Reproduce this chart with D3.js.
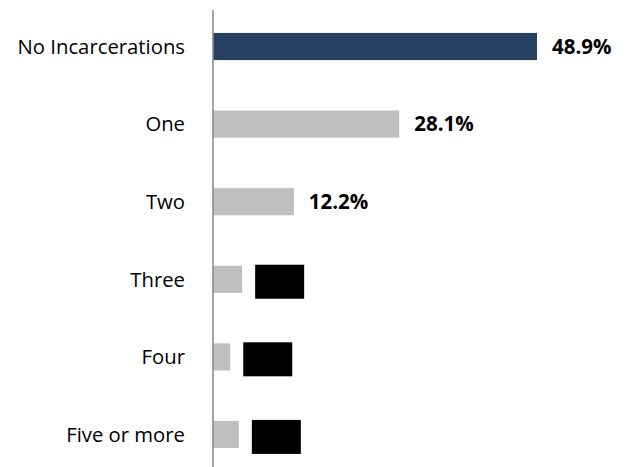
<!DOCTYPE html>
<html><head><meta charset="utf-8">
<script src="https://cdn.jsdelivr.net/npm/d3@7"></script>
<style>body{margin:0;background:#fff}</style>
</head><body>
<svg id="chart" width="631" height="467"></svg>
<script>
const categories = ["No Incarcerations","One","Two","Three","Four","Five or more"];
const values = [48.9, 28.1, 12.2, 4.4, 2.6, 3.9];
const valueLabels = ["48.9%","28.1%","12.2%",null,null,null];
const redacted = [false,false,false,true,true,true];
const barColors = ["#264061","#bfbfbf","#bfbfbf","#bfbfbf","#bfbfbf","#bfbfbf"];

const svg = d3.select("#chart");
const x = d3.scaleLinear().domain([0, 50]).range([213, 213 + 331.3]);
const y = d3.scaleBand().domain(categories).range([7.7, 473.3]).paddingInner(0.65).paddingOuter(0.325);
const data = categories.map((c,i)=>({c, v: values[i], lab: valueLabels[i], red: redacted[i], col: barColors[i]}));

svg.selectAll("rect.bar").data(data).join("rect").attr("class","bar")
  .attr("x", x(0)).attr("y", d=>y(d.c)).attr("width", d=>x(d.v)-x(0)).attr("height", y.bandwidth())
  .attr("fill", d=>d.col);

svg.append("line").attr("x1", x(0)).attr("x2", x(0)).attr("y1", 10).attr("y2", 467)
  .attr("stroke", "#868686").attr("stroke-width", 1.5);

const font = "'Open Sans', Carlito, Lato, sans-serif";
svg.selectAll("text.cat").data(data).join("text").attr("class","cat")
  .attr("x", 185).attr("y", d=>y(d.c)+y.bandwidth()/2).attr("dy","0.36em")
  .attr("text-anchor","end").attr("font-family", font).attr("font-size", 20.3).attr("fill","#000")
  .text(d=>d.c);

svg.selectAll("text.val").data(data.filter(d=>d.lab)).join("text").attr("class","val")
  .attr("x", d=>x(d.v)+15).attr("y", d=>y(d.c)+y.bandwidth()/2).attr("dy","0.36em")
  .attr("font-family", font).attr("font-size", 20.5).attr("font-weight","bold").attr("fill","#000")
  .text(d=>d.lab);

svg.selectAll("rect.red").data(data.filter(d=>d.red)).join("rect").attr("class","red")
  .attr("x", d=>x(d.v)+13).attr("y", d=>y(d.c)-1).attr("width", 49).attr("height", 34)
  .attr("fill","#000");
</script>
</body></html>
